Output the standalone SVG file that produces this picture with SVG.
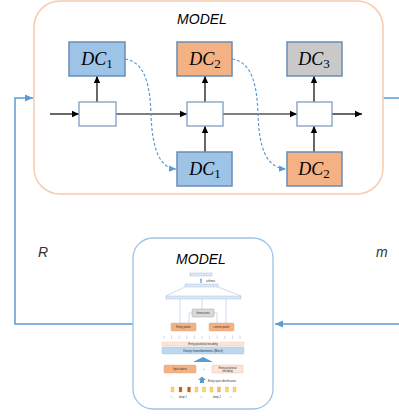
<svg xmlns="http://www.w3.org/2000/svg" width="399" height="416" viewBox="0 0 399 416">
<defs>
<marker id="ab" markerWidth="8" markerHeight="8" refX="7" refY="4" orient="auto" markerUnits="userSpaceOnUse"><path d="M0,0.8 L7,4 L0,7.2 Z" fill="#000"/></marker>
<marker id="abl" markerWidth="9" markerHeight="9" refX="8" refY="4.5" orient="auto" markerUnits="userSpaceOnUse"><path d="M0,1 L8,4.5 L0,8 Z" fill="#5b9bd5"/></marker>
<marker id="ad" markerWidth="8" markerHeight="8" refX="7" refY="4" orient="auto" markerUnits="userSpaceOnUse"><path d="M0,0.8 L7,4 L0,7.2 Z" fill="#5b9bd5"/></marker>
<marker id="at" markerWidth="3" markerHeight="3" refX="1.5" refY="1.5" orient="auto" markerUnits="userSpaceOnUse"><path d="M0,0.2 L2.5,1.5 L0,2.8 Z" fill="#8eaadb"/></marker>
</defs>
<style>
.dc{stroke:#6a8db5;stroke-width:1.5}
.blue{fill:#9dc3e6}.orange{fill:#f4b183}.gray{fill:#c9c9c9}
.wb{fill:#fff;stroke:#7f9fc0;stroke-width:1.3}
.dct{font-family:"Liberation Serif",serif;font-style:italic;font-size:18px;fill:#000}
.sub{font-size:13px;font-style:normal}
.ttl{font-family:"Liberation Sans",sans-serif;font-style:italic;font-size:14px;fill:#000}
.lbl{font-family:"Liberation Sans",sans-serif;font-style:italic;font-size:14px;fill:#333}
.blk{stroke:#000;stroke-width:1.2;fill:none}
.fb{stroke:#5b9bd5;stroke-width:1.5;fill:none}
.dash{stroke:#5b9bd5;stroke-width:1.2;fill:none;stroke-dasharray:3,2}
.tiny{font-family:"Liberation Sans",sans-serif;font-size:2.6px;fill:#333}
.thin{stroke:#9db4d8;stroke-width:0.5;fill:none}
</style>

<g id="connectors">
<path class="fb" d="M133,324 H15 V98 H33" marker-end="url(#abl)"/>
<path class="fb" d="M383,98 H399"/>
<path class="fb" d="M399,324 H275" marker-end="url(#abl)"/>
</g>

<g id="top-model">
<rect x="34" y="1" width="349" height="193" rx="26" fill="#fff" stroke="#f8cbad" stroke-width="1.5"/>
<text class="ttl" x="202" y="24" text-anchor="middle">MODEL</text>
</g>

<g id="top-connectors">
<path class="blk" d="M50,114 H79" marker-end="url(#ab)"/>
<path class="blk" d="M116,114 H187" marker-end="url(#ab)"/>
<path class="blk" d="M223,114 H297" marker-end="url(#ab)"/>
<path class="blk" d="M332,114 H362" marker-end="url(#ab)"/>
<path class="blk" d="M97,102 V76" marker-end="url(#ab)"/>
<path class="blk" d="M205,102 V76" marker-end="url(#ab)"/>
<path class="blk" d="M314,102 V76" marker-end="url(#ab)"/>
<path class="blk" d="M205,152 V126" marker-end="url(#ab)"/>
<path class="blk" d="M314,152 V126" marker-end="url(#ab)"/>
<path class="dash" d="M125,59 C145,62 150,85 151,114 C152,145 158,168 176,169" marker-end="url(#ad)"/>
<path class="dash" d="M232,59 C252,62 257,85 258,114 C259,145 265,168 286,169" marker-end="url(#ad)"/>
</g>

<g id="cell1"><rect class="wb" x="79" y="102" width="37" height="24"/></g>
<g id="cell2"><rect class="wb" x="187" y="102" width="36" height="24"/></g>
<g id="cell3"><rect class="wb" x="297" y="102" width="35" height="24"/></g>

<g id="dc1-top"><rect class="dc blue" x="69" y="42" width="56" height="34"/><text class="dct" x="97" y="65" text-anchor="middle">DC<tspan class="sub" dy="3">1</tspan></text></g>
<g id="dc2-top"><rect class="dc orange" x="177" y="42" width="55" height="34"/><text class="dct" x="205" y="65" text-anchor="middle">DC<tspan class="sub" dy="3">2</tspan></text></g>
<g id="dc3-top"><rect class="dc gray" x="287" y="42" width="55" height="34"/><text class="dct" x="314" y="65" text-anchor="middle">DC<tspan class="sub" dy="3">3</tspan></text></g>
<g id="dc1-bot"><rect class="dc blue" x="177" y="152" width="55" height="34"/><text class="dct" x="205" y="175" text-anchor="middle">DC<tspan class="sub" dy="3">1</tspan></text></g>
<g id="dc2-bot"><rect class="dc orange" x="287" y="152" width="55" height="34"/><text class="dct" x="314" y="175" text-anchor="middle">DC<tspan class="sub" dy="3">2</tspan></text></g>

<g id="label-R"><text class="lbl" x="38" y="257">R</text></g>
<g id="label-m"><text class="lbl" x="376" y="257">m</text></g>

<g id="bottom-model">
<rect x="133" y="238" width="140" height="171" rx="20" fill="#fff" stroke="#9dc3e6" stroke-width="1.3"/>
<text class="ttl" x="201" y="264" text-anchor="middle" font-size="15">MODEL</text>
<rect x="190" y="273" width="22" height="3" fill="#dde8f6" stroke="#7fa3d3" stroke-width="0.5" stroke-dasharray="1,0.6"/>
<path d="M201,283 V279" stroke="#5b9bd5" stroke-width="1.2" marker-end="url(#at)"/>
<text class="tiny" x="206" y="282">softmax</text>
<rect x="185" y="284" width="33" height="3" fill="#dde8f6" stroke="#7fa3d3" stroke-width="0.5" stroke-dasharray="1,0.6"/>
<path class="thin" d="M185,287 L166,296 M218,287 L241,296"/>
<rect x="166" y="296" width="75" height="3" fill="#dde8f6" stroke="#7fa3d3" stroke-width="0.5" stroke-dasharray="1,0.6"/>
<path class="thin" d="M180,323 V299 M226,323 V299 M202,309 V299 M189,323 V313 H192 M217,323 V313 H214"/>
<rect x="192" y="309" width="22" height="8" rx="1" fill="#d9d9d9" stroke="#a6a6a6" stroke-width="0.5"/>
<text class="tiny" x="203" y="314" text-anchor="middle">Interactions</text>
<rect x="171" y="323" width="25" height="8" rx="1" fill="#f4b183" stroke="#e0a070" stroke-width="0.4"/>
<text class="tiny" x="183.5" y="328" text-anchor="middle">Entity pooler</text>
<rect x="209" y="323" width="25" height="8" rx="1" fill="#f4b183" stroke="#e0a070" stroke-width="0.4"/>
<text class="tiny" x="221.5" y="328" text-anchor="middle">context pooler</text>
<path class="thin" d="M164,339 V335.5 M171.6,339 V335.5 M179.2,339 V335.5 M186.8,339 V335.5 M194.4,339 V335.5 M202,339 V335.5 M209.6,339 V335.5 M217.2,339 V335.5 M224.8,339 V335.5 M232.4,339 V335.5 M240,339 V335.5"/>
<rect x="162" y="342" width="82" height="4" fill="#fbe5d6" stroke="#f4b183" stroke-width="0.4" stroke-dasharray="1,0.6"/>
<text class="tiny" x="203" y="345" text-anchor="middle">Entity positional encoding</text>
<rect x="162" y="347" width="82" height="7" rx="1" fill="#bdd7ee" stroke="#9dc3e6" stroke-width="0.4"/>
<text x="203" y="352.3" text-anchor="middle" font-family="Liberation Sans,sans-serif" font-size="3.6" fill="#333">Deep transformers (Bert)</text>
<path d="M193,362 L203,357 L213,362 Z" fill="#5b9bd5"/>
<rect x="164" y="365" width="32" height="8" rx="1" fill="#f4b183" stroke="#e0a070" stroke-width="0.4"/>
<text class="tiny" x="180" y="370" text-anchor="middle">Input tokens</text>
<text class="tiny" x="204" y="370" text-anchor="middle">+</text>
<rect x="212" y="365" width="31" height="8" rx="1" fill="#fbe5d6" stroke="#c0a090" stroke-width="0.4" stroke-dasharray="1,0.6"/>
<text class="tiny" x="227.5" y="368.5" text-anchor="middle">Entity positional</text>
<text class="tiny" x="227.5" y="371.5" text-anchor="middle">encoding</text>
<path d="M198,380 L202,376.5 L206,380 H204 V383 H200 V380 Z" fill="#5b9bd5"/>
<text class="tiny" x="208" y="382" font-size="3">Entity span identification</text>
<g stroke="#d9a441" stroke-width="0.3">
<rect x="171" y="387" width="3" height="5" fill="#ffd966"/>
<rect x="179" y="387" width="3" height="5" fill="#c55a11"/>
<rect x="187.5" y="387" width="3" height="5" fill="#c55a11"/>
<rect x="195" y="387" width="3" height="5" fill="#ffd966"/>
<rect x="202.5" y="387" width="3" height="5" fill="#ffd966"/>
<rect x="210" y="387" width="3" height="5" fill="#ffd966"/>
<rect x="217.5" y="387" width="3" height="5" fill="#f4b183"/>
<rect x="225.5" y="387" width="3" height="5" fill="#ffd966"/>
<rect x="233" y="387" width="3" height="5" fill="#ffd966"/>
</g>
<path class="thin" d="M170,397 H173 M200,397 H203 M229,397 H232"/>
<text class="tiny" x="183" y="398" text-anchor="middle">deep 1</text>
<text class="tiny" x="217" y="398" text-anchor="middle">deep 2</text>
</g>
</svg>
